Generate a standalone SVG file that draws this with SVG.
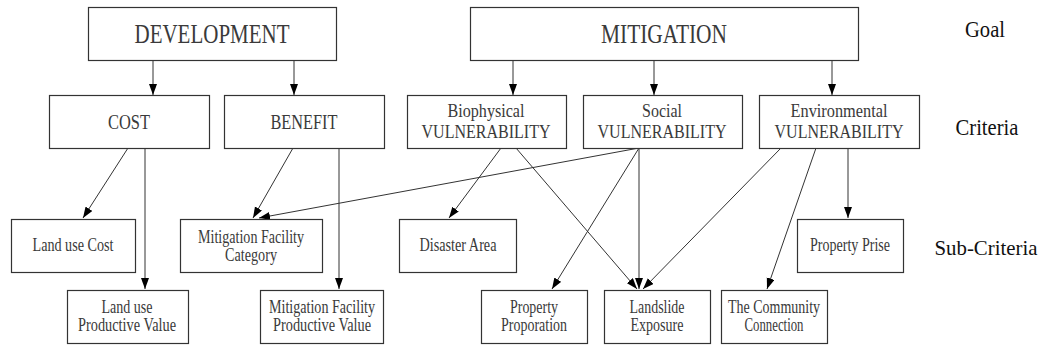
<svg xmlns="http://www.w3.org/2000/svg" width="1045" height="349" viewBox="0 0 1045 349">
<style>
.box{fill:#fff;stroke:#333;stroke-width:1.2}
.t{font-family:"Liberation Serif",serif;fill:#3a3a3a;text-anchor:middle}
.g{font-size:27px}
.c{font-size:21px}
.v{font-size:18px}
.s{font-size:18px}
.lab{font-family:"Liberation Serif",serif;fill:#111;font-size:23px;text-anchor:middle}
.ln{stroke:#333;stroke-width:1;fill:none;marker-end:url(#ah)}
</style>
<defs>
<marker id="ah" markerUnits="userSpaceOnUse" markerWidth="12" markerHeight="9" refX="11" refY="4" orient="auto">
<path d="M0,0 L11,4 L0,8 z" fill="#000"/>
</marker>
</defs>
<rect width="1045" height="349" fill="#fff"/>

<g id="connectors">
<line class="ln" x1="153" y1="60" x2="153" y2="95"/>
<line class="ln" x1="294" y1="60" x2="294" y2="95"/>
<line class="ln" x1="513" y1="60" x2="513" y2="95"/>
<line class="ln" x1="654" y1="60" x2="654" y2="95"/>
<line class="ln" x1="832" y1="60" x2="832" y2="95"/>
<line class="ln" x1="128" y1="148" x2="83" y2="218"/>
<line class="ln" x1="145" y1="148" x2="145" y2="289"/>
<line class="ln" x1="293" y1="148" x2="253" y2="218"/>
<line class="ln" x1="339" y1="148" x2="339" y2="289"/>
<line class="ln" x1="501" y1="148" x2="449" y2="218"/>
<line class="ln" x1="516" y1="148" x2="637" y2="289"/>
<line class="ln" x1="639" y1="148" x2="259" y2="218"/>
<line class="ln" x1="639" y1="148" x2="552" y2="289"/>
<line class="ln" x1="639" y1="148" x2="639" y2="289"/>
<line class="ln" x1="781" y1="148" x2="643" y2="289"/>
<line class="ln" x1="816" y1="148" x2="767" y2="289"/>
<line class="ln" x1="848" y1="148" x2="848" y2="218"/>
</g>

<g id="development">
<rect class="box" x="88.5" y="7.5" width="248" height="53"/>
<text class="t g" x="212" y="43" textLength="155" lengthAdjust="spacingAndGlyphs">DEVELOPMENT</text>
</g>
<g id="mitigation">
<rect class="box" x="470.5" y="7.5" width="388" height="53"/>
<text class="t g" x="664" y="43" textLength="126" lengthAdjust="spacingAndGlyphs">MITIGATION</text>
</g>

<g id="cost">
<rect class="box" x="49.5" y="95.5" width="160" height="53"/>
<text class="t c" x="129" y="129" textLength="42" lengthAdjust="spacingAndGlyphs">COST</text>
</g>
<g id="benefit">
<rect class="box" x="224.5" y="95.5" width="160" height="53"/>
<text class="t c" x="304" y="129" textLength="67" lengthAdjust="spacingAndGlyphs">BENEFIT</text>
</g>
<g id="biophysical">
<rect class="box" x="407.5" y="95.5" width="159" height="53"/>
<text class="t v" x="486" y="117" textLength="77" lengthAdjust="spacingAndGlyphs">Biophysical</text>
<text class="t v" x="486" y="138" textLength="129" lengthAdjust="spacingAndGlyphs">VULNERABILITY</text>
</g>
<g id="social">
<rect class="box" x="583.5" y="95.5" width="159" height="53"/>
<text class="t v" x="662" y="117" textLength="40" lengthAdjust="spacingAndGlyphs">Social</text>
<text class="t v" x="662" y="138" textLength="129" lengthAdjust="spacingAndGlyphs">VULNERABILITY</text>
</g>
<g id="environmental">
<rect class="box" x="759.5" y="95.5" width="160" height="53"/>
<text class="t v" x="839" y="117" textLength="97" lengthAdjust="spacingAndGlyphs">Environmental</text>
<text class="t v" x="839" y="138" textLength="129" lengthAdjust="spacingAndGlyphs">VULNERABILITY</text>
</g>

<g id="land-use-cost">
<rect class="box" x="11.5" y="219.5" width="124" height="53"/>
<text class="t s" x="73" y="251" textLength="81" lengthAdjust="spacingAndGlyphs">Land use Cost</text>
</g>
<g id="mitigation-facility-category">
<rect class="box" x="180.5" y="219.5" width="142" height="53"/>
<text class="t s" x="251" y="243" textLength="106" lengthAdjust="spacingAndGlyphs">Mitigation Facility</text>
<text class="t s" x="251" y="261" textLength="52" lengthAdjust="spacingAndGlyphs">Category</text>
</g>
<g id="disaster-area">
<rect class="box" x="399.5" y="219.5" width="117" height="53"/>
<text class="t s" x="458" y="251" textLength="77" lengthAdjust="spacingAndGlyphs">Disaster Area</text>
</g>
<g id="property-prise">
<rect class="box" x="797.5" y="219.5" width="106" height="53"/>
<text class="t s" x="850" y="251" textLength="80" lengthAdjust="spacingAndGlyphs">Property Prise</text>
</g>

<g id="land-use-productive-value">
<rect class="box" x="67.5" y="290.5" width="121" height="53"/>
<text class="t s" x="127" y="313" textLength="51" lengthAdjust="spacingAndGlyphs">Land use</text>
<text class="t s" x="127" y="331" textLength="98" lengthAdjust="spacingAndGlyphs">Productive Value</text>
</g>
<g id="mitigation-facility-productive-value">
<rect class="box" x="260.5" y="290.5" width="123" height="53"/>
<text class="t s" x="322" y="313" textLength="106" lengthAdjust="spacingAndGlyphs">Mitigation Facility</text>
<text class="t s" x="322" y="331" textLength="98" lengthAdjust="spacingAndGlyphs">Productive Value</text>
</g>
<g id="property-proporation">
<rect class="box" x="481.5" y="290.5" width="106" height="53"/>
<text class="t s" x="534" y="313" textLength="48" lengthAdjust="spacingAndGlyphs">Property</text>
<text class="t s" x="534" y="331" textLength="66" lengthAdjust="spacingAndGlyphs">Proporation</text>
</g>
<g id="landslide-exposure">
<rect class="box" x="604.5" y="290.5" width="106" height="53"/>
<text class="t s" x="657" y="313" textLength="55" lengthAdjust="spacingAndGlyphs">Landslide</text>
<text class="t s" x="657" y="331" textLength="53" lengthAdjust="spacingAndGlyphs">Exposure</text>
</g>
<g id="community-connection">
<rect class="box" x="721.5" y="290.5" width="106" height="53"/>
<text class="t s" x="774" y="313" textLength="92" lengthAdjust="spacingAndGlyphs">The Community</text>
<text class="t s" x="774" y="331" textLength="59" lengthAdjust="spacingAndGlyphs">Connection</text>
</g>

<g id="level-labels">
<text class="lab" x="985" y="37" textLength="40" lengthAdjust="spacingAndGlyphs">Goal</text>
<text class="lab" x="987" y="135" textLength="63" lengthAdjust="spacingAndGlyphs">Criteria</text>
<text class="lab" x="986" y="255" font-size="21" style="font-size:21px" textLength="103" lengthAdjust="spacingAndGlyphs">Sub-Criteria</text>
</g>
</svg>
